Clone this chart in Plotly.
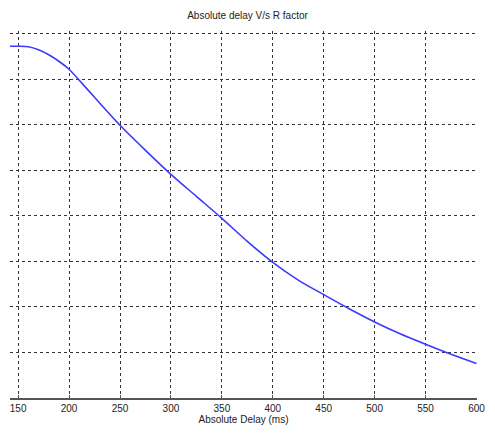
import plotly.graph_objects as go

# Values
delay_ms = [142, 150, 160, 170, 180, 190, 200, 210, 225, 250, 275, 300, 325, 350, 375, 400, 425, 450, 475, 500, 525, 550, 575, 600]
r_factor = [88.63, 88.63, 88.57, 88.24, 87.69, 86.98, 86.10, 84.89, 83.02, 79.95, 77.20, 74.56, 72.14, 69.73, 67.20, 64.89, 62.95, 61.35, 59.80, 58.35, 57.05, 55.90, 54.80, 53.79]

x_ticks = [150, 200, 250, 300, 350, 400, 450, 500, 550, 600]
y_ticks = [50, 55, 60, 65, 70, 75, 80, 85, 90]

fig = go.Figure()
fig.add_trace(go.Scatter(
    x=delay_ms, y=r_factor, mode="lines",
    line=dict(color="#3a3aff", width=1.6, shape="spline", smoothing=0.8),
    showlegend=False, hoverinfo="skip",
))

font_family = "Liberation Sans, Arial, sans-serif"

fig.update_layout(
    width=495, height=434,
    margin=dict(l=10, r=12, t=31, b=36),
    paper_bgcolor="white", plot_bgcolor="white",
    title=dict(text="Absolute delay V/s R factor", x=0.5, xanchor="center",
               y=1 - 15 / 434, yanchor="middle",
               font=dict(family=font_family, size=10, color="#222")),
    xaxis=dict(
        range=[142, 600.5], tickvals=x_ticks, ticktext=[str(v) for v in x_ticks],
        showgrid=True, gridcolor="#333", griddash="3px,3px", gridwidth=1.2,
        showline=True, linecolor="#555", linewidth=1.5,
        ticks="inside", ticklen=3, tickcolor="#555",
        tickfont=dict(family=font_family, size=10, color="#222"),
        title=dict(text="Absolute Delay (ms)", standoff=2,
                   font=dict(family=font_family, size=10, color="#222")),
        zeroline=False,
    ),
    yaxis=dict(
        range=[50, 90.3], tickvals=y_ticks,
        showgrid=True, gridcolor="#333", griddash="3px,3px", gridwidth=1.2,
        showticklabels=False, showline=False, ticks="", zeroline=False,
    ),
)

fig.write_html("out.html")
